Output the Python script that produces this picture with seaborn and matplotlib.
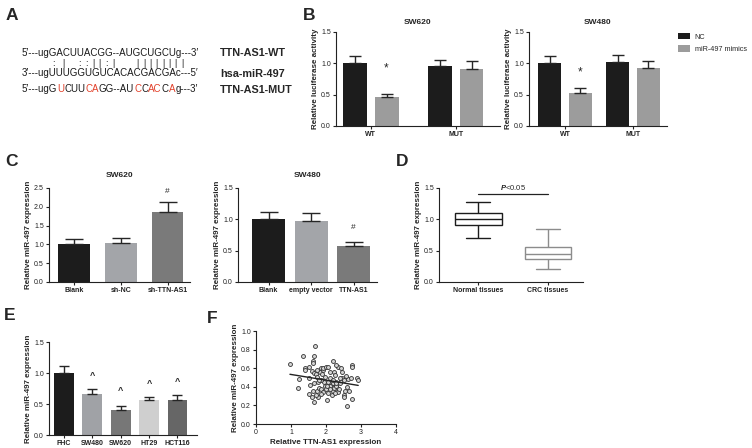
import numpy as np
import pandas as pd
import matplotlib
matplotlib.use("Agg")
import matplotlib.pyplot as plt
import seaborn as sns
from matplotlib.font_manager import FontProperties

sns.set_theme(style="ticks")
plt.rcParams['font.family'] = ['Liberation Sans', 'DejaVu Sans']
plt.rcParams['mathtext.fontset'] = 'custom'
plt.rcParams['mathtext.it'] = 'Liberation Sans:italic:bold'
plt.rcParams['mathtext.rm'] = 'Liberation Sans:bold'

W, H = 752, 448

# ---- data ----
# B: luciferase
luc_sites = ['WT', 'MUT']
luc_groups = ['NC', 'miR-497 mimics']
luc_colors = ['#1c1c1c', '#9c9c9c']
sw620_nc = [1.00, 0.96]
sw620_mim = [0.46, 0.91]
sw620_nc_err = [0.11, 0.10]
sw620_mim_err = [0.05, 0.12]
sw480_nc = [1.00, 1.02]
sw480_mim = [0.53, 0.93]
sw480_nc_err = [0.12, 0.11]
sw480_mim_err = [0.07, 0.10]

# C: miR-497 expression
c620_labels = ['Blank', 'sh-NC', 'sh-TTN-AS1']
c620_vals = [1.00, 1.04, 1.87]
c620_err = [0.15, 0.14, 0.25]
c480_labels = ['Blank', 'empty vector', 'TTN-AS1']
c480_vals = [1.00, 0.97, 0.57]
c480_err = [0.12, 0.13, 0.07]
c_colors = ['#1c1c1c', '#a3a5a9', '#7a7a7a']

# D: box summary (min, q1, median, q3, max)
d_labels = ['Normal tissues', 'CRC tissues']
d_normal = [0.71, 0.91, 1.01, 1.10, 1.27]
d_crc = [0.20, 0.36, 0.44, 0.56, 0.85]

# E: cell lines
e_labels = ['FHC', 'SW480', 'SW620', 'HT29', 'HCT116']
e_vals = [1.00, 0.66, 0.41, 0.56, 0.57]
e_err = [0.11, 0.08, 0.06, 0.05, 0.07]
e_colors = ['#1c1c1c', '#a0a2a6', '#777777', '#cfcfcf', '#666666']
e_marks = [None, 0.96, 0.71, 0.83, 0.86]

# F: correlation
f_x = [0.97, 1.66, 1.35, 1.68, 1.40, 1.40, 1.23, 1.21, 1.50, 1.50, 1.62, 1.64, 1.60, 1.66,
       1.70, 1.73, 1.66, 1.64, 1.67, 1.75, 1.78, 1.81, 1.83, 1.87, 1.90, 1.92, 1.95, 1.97,
       2.00, 2.02, 2.00, 2.05, 2.10, 2.11, 2.13, 2.16, 2.19, 2.21, 2.23, 2.26, 2.29, 2.30,
       2.32, 2.35, 2.38, 2.40, 2.42, 2.45, 2.47, 2.50, 2.51, 2.54, 2.59, 2.64, 2.67, 2.61,
       2.73, 2.75, 2.70, 2.73, 2.88, 2.92, 2.35, 1.97, 1.87, 1.78, 1.55, 2.07, 2.11, 2.21,
       2.24, 2.28, 2.30, 1.87, 1.92, 1.85, 2.07, 2.16, 2.26, 2.40, 2.50, 2.10, 2.04, 2.19,
       1.89, 1.75, 1.52, 1.59, 1.70, 1.81, 2.57, 2.42, 2.29]
f_y = [0.64, 0.73, 0.73, 0.84, 0.60, 0.58, 0.48, 0.39, 0.32, 0.49, 0.68, 0.66, 0.57, 0.55,
       0.54, 0.51, 0.44, 0.36, 0.24, 0.35, 0.29, 0.39, 0.56, 0.60, 0.58, 0.60, 0.45, 0.41,
       0.38, 0.26, 0.61, 0.61, 0.56, 0.49, 0.44, 0.40, 0.36, 0.68, 0.56, 0.53, 0.45, 0.42,
       0.39, 0.34, 0.38, 0.44, 0.47, 0.50, 0.56, 0.31, 0.29, 0.36, 0.40, 0.48, 0.36, 0.19,
       0.63, 0.61, 0.49, 0.27, 0.50, 0.47, 0.61, 0.51, 0.47, 0.45, 0.42, 0.45, 0.41, 0.44,
       0.39, 0.41, 0.44, 0.38, 0.34, 0.32, 0.33, 0.31, 0.33, 0.49, 0.47, 0.38, 0.41, 0.47,
       0.54, 0.58, 0.61, 0.29, 0.31, 0.47, 0.52, 0.60, 0.63]

# A: sequences
red = '#e2412b'
wt_parts = [("5\u2032---ugGACUUACGG--AUGCUGCUg---3\u2032", 'k')]
mir_parts = [("3\u2032---ugUUUGGUGUCACACGACGAc---5\u2032", 'k')]
mut_parts = [("5\u2032---ugG", 'k'), ("U", red), ("CUU", 'k'), ("CA", red), ("GG--AU", 'k'),
             ("C", red), ("C", 'k'), ("AC", red), ("C", 'k'), ("A", red), ("g---3\u2032", 'k')]
pair_chars = ":|::||:|||||||||"
pair_px = [53, 63, 79, 86, 93, 99, 106, 113, 137, 144, 150, 156, 163, 169, 175, 182]

fig = plt.figure(figsize=(W / 100, H / 100), dpi=100)
renderer = fig.canvas.get_renderer()


def add_ax(x0, y0, x1, y1):
    return fig.add_axes([x0 / W, 1 - y1 / H, (x1 - x0) / W, (y1 - y0) / H])


def style(ax, ylabel, ylim, yticks, fmt='{x:.1f}'):
    sns.despine(ax=ax)
    ax.set_ylim(ylim)
    ax.set_yticks(yticks)
    ax.yaxis.set_major_formatter(fmt)
    ax.set_ylabel(ylabel, fontsize=5.8, fontweight='bold', labelpad=1.5)
    ax.set_xlabel('')
    ax.tick_params(labelsize=5, length=2.2, width=0.8, pad=1.5, colors='#222')
    for s in ax.spines.values():
        s.set_linewidth(0.8)
        s.set_color('#222')
    for lab in ax.get_xticklabels():
        lab.set_fontweight('bold')


def bars(ax, labels, vals, errs, colors, width, capsize):
    sns.barplot(x=labels, y=vals, hue=labels, palette=colors, legend=False, width=width,
                errorbar=None, saturation=1, linewidth=0, ax=ax)
    ax.errorbar(range(len(labels)), vals, yerr=[np.zeros(len(vals)), errs], fmt='none',
                ecolor='#262626', elinewidth=1.0, capsize=capsize, capthick=1.0, zorder=3)


def grouped(ax, nc, mim, nc_err, mim_err, width, gap):
    df = pd.DataFrame({'site': luc_sites * 2,
                       'group': [luc_groups[0]] * 2 + [luc_groups[1]] * 2,
                       'value': nc + mim})
    sns.barplot(data=df, x='site', y='value', hue='group', palette=luc_colors, errorbar=None,
                saturation=1, width=width, gap=gap, linewidth=0, ax=ax)
    for cont, errs in zip(ax.containers, [nc_err, mim_err]):
        xs = [p.get_x() + p.get_width() / 2 for p in cont]
        hs = [p.get_height() for p in cont]
        ax.errorbar(xs, hs, yerr=[np.zeros(len(errs)), errs], fmt='none', ecolor='#262626',
                    elinewidth=1.0, capsize=4.5, capthick=1.0, zorder=3)


def letter(x, y, s):
    fig.text(x / W, 1 - y / H, s, fontsize=12.5, fontweight='bold', ha='center', va='center')


# ---- A ----
def seq_line(parts, x, y, size=7):
    # place coloured pieces at the offset of the full string's prefix
    full = ''.join(t for t, c in parts)
    fp = FontProperties(family=plt.rcParams['font.family'], size=size)
    pos = 0
    for t, c in parts:
        prefix = full[:pos]
        w = renderer.get_text_width_height_descent(prefix, fp, ismath=False)[0] if prefix else 0
        fig.text((x + w) / W, 1 - (y + 2.5) / H, t, fontsize=size, color=c,
                 ha='left', va='baseline')
        pos += len(t)


seq_line(wt_parts, 22, 53)
seq_line(mir_parts, 22, 74)
seq_line(mut_parts, 22, 90)
for ch, px in zip(pair_chars, pair_px):
    fig.text(px / W, 1 - 63 / H, ch, fontsize=6.5, ha='center', va='center', color='#222')
for s, y in zip(['TTN-AS1-WT', 'hsa-miR-497', 'TTN-AS1-MUT'], [53, 74, 90]):
    fig.text(220 / W, 1 - y / H, s, fontsize=7.8, fontweight='bold', ha='left', va='center')
letter(12, 16, 'A')

# ---- B ----
ax_b1 = add_ax(336, 32, 500, 126)
grouped(ax_b1, sw620_nc, sw620_mim, sw620_nc_err, sw620_mim_err, 0.74, 0.24)
ax_b1.get_legend().remove()
style(ax_b1, 'Relative luciferase activity', (0, 1.5), [0, 0.5, 1.0, 1.5])
ax_b1.set_xlim(-0.41, 1.52)
ax_b1.set_title('SW620', fontsize=6, fontweight='bold', pad=6)
ax_b1.text(0.185, 0.92, '*', fontsize=8.5, ha='center', va='center')

ax_b2 = add_ax(529, 32, 667, 126)
grouped(ax_b2, sw480_nc, sw480_mim, sw480_nc_err, sw480_mim_err, 0.9, 0.25)
style(ax_b2, 'Relative luciferase activity', (0, 1.5), [0, 0.5, 1.0, 1.5])
ax_b2.set_xlim(-0.53, 1.5)
ax_b2.set_title('SW480', fontsize=6, fontweight='bold', pad=6)
ax_b2.text(0.225, 0.85, '*', fontsize=8.5, ha='center', va='center')
ax_b2.legend(loc='upper left', bbox_to_anchor=(678 / W, 1 - 33 / H), bbox_transform=fig.transFigure,
             frameon=False, fontsize=5.2, handlelength=1.7, handleheight=1.0, handletextpad=0.6,
             labelspacing=0.6, borderaxespad=0, borderpad=0)
letter(309, 15, 'B')

# ---- C ----
ax_c1 = add_ax(49, 188, 190, 282)
bars(ax_c1, c620_labels, c620_vals, c620_err, c_colors, 0.68, 6.2)
style(ax_c1, 'Relative miR-497 expression', (0, 2.5), [0, 0.5, 1.0, 1.5, 2.0, 2.5])
ax_c1.set_xlim(-0.53, 2.48)
ax_c1.set_title('SW620', fontsize=6, fontweight='bold', pad=8)
ax_c1.text(2, 2.42, '#', fontsize=6, ha='center', va='center')

ax_c2 = add_ax(238, 188, 377, 282)
bars(ax_c2, c480_labels, c480_vals, c480_err, c_colors, 0.78, 6.2)
style(ax_c2, 'Relative miR-497 expression', (0, 1.5), [0, 0.5, 1.0, 1.5])
ax_c2.set_xlim(-0.72, 2.55)
ax_c2.set_title('SW480', fontsize=6, fontweight='bold', pad=8)
ax_c2.text(2, 0.87, '#', fontsize=6, ha='center', va='center')
letter(12, 161, 'C')

# ---- D ----
ax_d = add_ax(439, 188, 583, 282)
df_d = pd.DataFrame({'group': [d_labels[0]] * 5 + [d_labels[1]] * 5, 'value': d_normal + d_crc})
sns.boxplot(data=df_d, x='group', y='value', hue='group', palette=['white', 'white'],
            whis=(0, 100), width=0.67, linewidth=1.0, fliersize=0, legend=False, ax=ax_d)
box_cols = ['#1c1c1c', '#8c8c8c']
for i, patch in enumerate(ax_d.patches):
    patch.set_edgecolor(box_cols[i])
for j, ln in enumerate(ax_d.lines):
    ln.set_color(box_cols[0] if j < len(ax_d.lines) // 2 else box_cols[1])
style(ax_d, 'Relative miR-497 expression', (0, 1.5), [0, 0.5, 1.0, 1.5])
ax_d.set_xlim(-0.56, 1.5)
ax_d.plot([0, 1], [1.40, 1.40], color='#222', lw=0.9)
ax_d.text(0.5, 1.50, r'$\mathit{P}$<0.05', fontsize=5.5, ha='center', va='center')
letter(402, 162, 'D')

# ---- E ----
ax_e = add_ax(49, 342, 197, 435)
bars(ax_e, e_labels, e_vals, e_err, e_colors, 0.7, 3.3)
style(ax_e, 'Relative miR-497 expression', (0, 1.5), [0, 0.5, 1.0, 1.5])
ax_e.set_xlim(-0.53, 4.69)
for i, m in enumerate(e_marks):
    if m is not None:
        ax_e.text(i, m, '^', fontsize=6.5, ha='center', va='center', fontweight='bold')
letter(10, 315, 'E')

# ---- F ----
ax_f = add_ax(256, 331, 396, 424)
sns.scatterplot(x=f_x, y=f_y, s=8, facecolor='#d4d4d4', edgecolor='#333333', linewidth=0.6, ax=ax_f)
sns.regplot(x=f_x, y=f_y, scatter=False, ci=None, color='#222', line_kws=dict(lw=1.0), ax=ax_f)
style(ax_f, 'Relative miR-497 expression', (0, 1.0), [0, 0.2, 0.4, 0.6, 0.8, 1.0])
ax_f.set_xlim(0, 4)
ax_f.set_xticks([0, 1, 2, 3, 4])
ax_f.xaxis.set_major_formatter('{x:.0f}')
ax_f.set_xlabel('Relative TTN-AS1 expression', fontsize=5.8, fontweight='bold', labelpad=2)
for lab in ax_f.get_xticklabels():
    lab.set_fontweight('normal')
letter(212, 318, 'F')

fig.savefig('out.png', dpi=100)
